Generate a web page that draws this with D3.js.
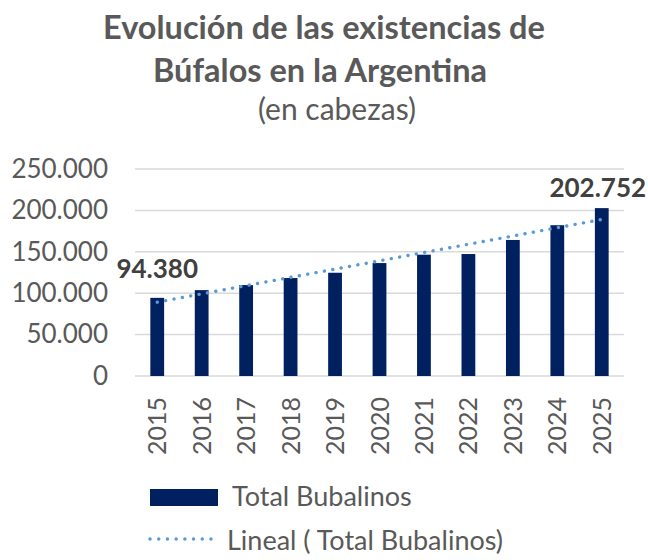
<!DOCTYPE html>
<html>
<head>
<meta charset="utf-8">
<script src="https://cdn.jsdelivr.net/npm/d3@7"></script>
<style>
  body { margin: 0; background: #fff; }
  svg { font-family: Lato, "Open Sans", sans-serif; }
</style>
</head>
<body>
<div id="chart"></div>
<script>
// data
const years = ['2015', '2016', '2017', '2018', '2019', '2020', '2021', '2022', '2023', '2024', '2025'];
const bubalinos = [94380, 103700, 109800, 118300, 124700, 136400, 146500, 147300, 164300, 182100, 202752];
const yTicks = [0, 50000, 100000, 150000, 200000, 250000];
const titleLines = ['Evolución de las existencias de', 'Búfalos en la Argentina'];
const subtitle = '(en cabezas)';
const legendLabels = ['Total Bubalinos', 'Lineal ( Total Bubalinos)'];

const width = 648;
const height = 560;
const margin = { top: 169, right: 24, bottom: 184, left: 135 };

const barColor = '#002060';
const trendColor = '#5b9bd5';
const textColor = '#595959';

const svg = d3.select('#chart').append('svg')
  .attr('width', width)
  .attr('height', height);

// title
svg.selectAll('.title')
  .data(titleLines)
  .enter().append('text')
  .attr('class', 'title')
  .attr('x', (d, i) => i === 0 ? 324 : 320)
  .attr('y', (d, i) => 39 + i * 43)
  .attr('text-anchor', 'middle')
  .attr('font-size', '32.5px')
  .attr('font-weight', 'bold')
  .attr('fill', textColor)
  .text(d => d);

svg.append('text')
  .attr('x', 337)
  .attr('y', 120)
  .attr('text-anchor', 'middle')
  .attr('font-size', '30px')
  .attr('fill', textColor)
  .text(subtitle);

const x = d3.scaleBand()
  .domain(years)
  .range([margin.left, width - margin.right])
  .padding(0);

const y = d3.scaleLinear()
  .domain([0, 250000])
  .range([height - margin.bottom, margin.top]);

const fmt = d3.formatLocale({ decimal: ',', thousands: '.', grouping: [3], currency: ['$', ''] }).format(',');

// gridlines
svg.append('g')
  .selectAll('line')
  .data(yTicks)
  .enter().append('line')
  .attr('x1', margin.left)
  .attr('x2', width - margin.right)
  .attr('y1', d => y(d))
  .attr('y2', d => y(d))
  .attr('stroke', '#d9d9d9')
  .attr('stroke-width', 1.5);

// y axis labels
const yAxis = d3.axisLeft(y).tickValues(yTicks).tickFormat(fmt).tickSize(0).tickPadding(27);
const yAxisGroup = svg.append('g')
  .attr('transform', 'translate(' + margin.left + ',0)')
  .call(yAxis);
yAxisGroup.select('.domain').remove();
yAxisGroup.selectAll('text')
  .attr('font-family', 'Lato, "Open Sans", sans-serif')
  .attr('font-size', '26px')
  .attr('fill', textColor);

// bars
const barW = x.bandwidth() * 0.31;
svg.append('g')
  .selectAll('rect')
  .data(bubalinos)
  .enter().append('rect')
  .attr('x', (d, i) => x(years[i]) + x.bandwidth() / 2 - barW / 2)
  .attr('y', d => y(d))
  .attr('width', barW)
  .attr('height', d => y(0) - y(d))
  .attr('fill', barColor);

// x axis labels (rotated)
const xAxis = d3.axisBottom(x).tickSize(0).tickPadding(0);
const xAxisGroup = svg.append('g')
  .attr('transform', 'translate(0,' + y(0) + ')')
  .call(xAxis);
xAxisGroup.select('.domain').remove();
xAxisGroup.selectAll('text')
  .attr('font-family', 'Lato, "Open Sans", sans-serif')
  .attr('font-size', '25px')
  .attr('fill', textColor)
  .attr('text-anchor', 'end')
  .attr('dy', null)
  .attr('transform', 'translate(9,21) rotate(-90)');

// linear trend (least squares, like the spreadsheet trendline)
const idx = d3.range(bubalinos.length);
const mx = d3.mean(idx);
const my = d3.mean(bubalinos);
const slope = d3.sum(idx, i => (i - mx) * (bubalinos[i] - my)) / d3.sum(idx, i => (i - mx) * (i - mx));
const intercept = my - slope * mx;
const trend = d3.line()
  .x(i => x(years[i]) + x.bandwidth() / 2)
  .y(i => y(intercept + slope * i));
svg.append('path')
  .datum([0, bubalinos.length - 1])
  .attr('d', trend)
  .attr('fill', 'none')
  .attr('stroke', trendColor)
  .attr('stroke-width', 3.4)
  .attr('stroke-linecap', 'round')
  .attr('stroke-dasharray', '0.1 8.4');

// data labels on first and last bar
const last = bubalinos.length - 1;
svg.append('g')
  .selectAll('text')
  .data([0, last])
  .enter().append('text')
  .attr('x', i => x(years[i]) + x.bandwidth() / 2 + (i === last ? -4 : 0))
  .attr('y', i => y(bubalinos[i]) - (i === last ? 11 : 20))
  .attr('text-anchor', 'middle')
  .attr('font-size', '26px')
  .attr('font-weight', 'bold')
  .attr('fill', '#404040')
  .text(i => fmt(bubalinos[i]));

// legend
const legend = svg.append('g');
legend.append('rect')
  .attr('x', 150)
  .attr('y', 489)
  .attr('width', 68)
  .attr('height', 17)
  .attr('fill', barColor);
legend.append('text')
  .attr('x', 232)
  .attr('y', 506)
  .attr('font-size', '27px')
  .attr('fill', textColor)
  .text(legendLabels[0]);
legend.append('line')
  .attr('x1', 150)
  .attr('x2', 212)
  .attr('y1', 539)
  .attr('y2', 539)
  .attr('stroke', trendColor)
  .attr('stroke-width', 3.4)
  .attr('stroke-linecap', 'round')
  .attr('stroke-dasharray', '0.1 8.6');
legend.append('text')
  .attr('x', 227)
  .attr('y', 550)
  .attr('font-size', '27px')
  .attr('fill', textColor)
  .text(legendLabels[1]);
</script>
</body>
</html>
